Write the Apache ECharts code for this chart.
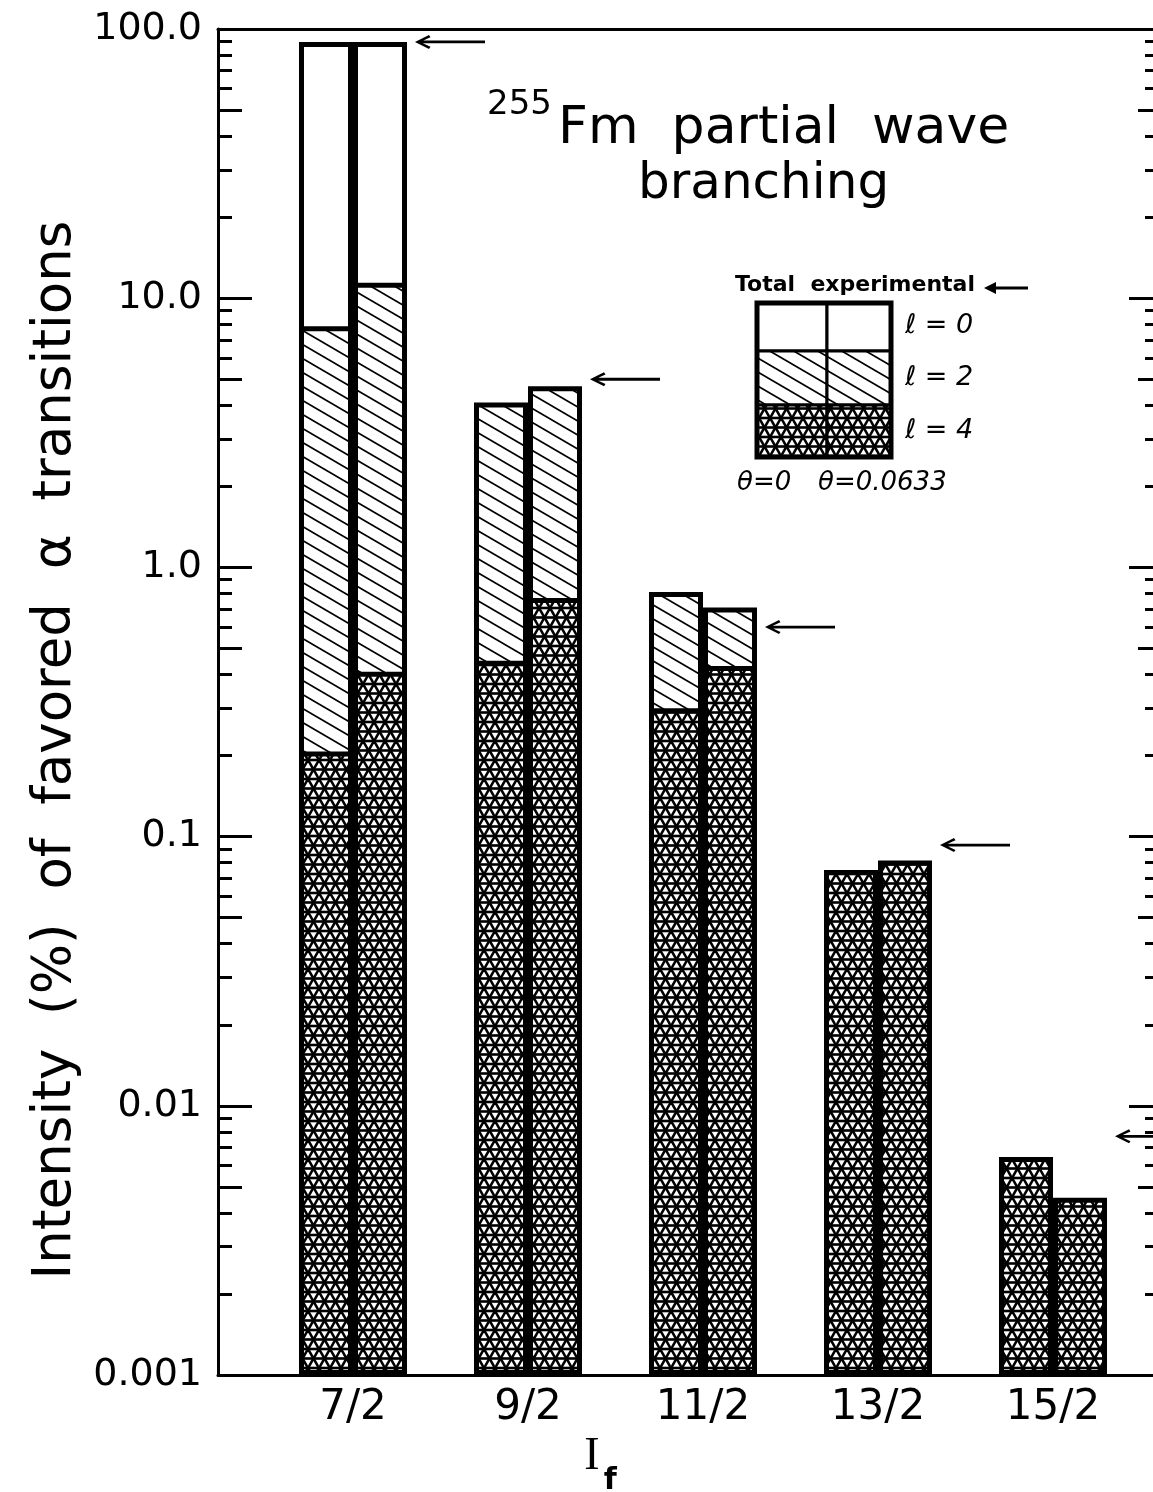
<!DOCTYPE html>
<html><head><meta charset="utf-8">
<script src="https://cdn.jsdelivr.net/npm/echarts@6/dist/echarts.min.js"></script>
<style>html,body{margin:0;padding:0;background:#fff}#c{width:1153px;height:1492px}</style>
</head><body><div id="c"></div>
<script>
// ---- data (intensity %) ----
const categories = ['7/2', '9/2', '11/2', '13/2', '15/2'];
// theta = 0 : contribution of each partial wave
const l4Theta0 = [0.207, 0.45, 0.30, 0.0752, 0.00645];
const l2Theta0 = [7.66, 3.65, 0.51, null, null];
const l0Theta0 = [81.6, null, null, null, null];
// theta = 0.0633
const l4Theta1 = [0.41, 0.77, 0.43, 0.0815, 0.00455];
const l2Theta1 = [11.0, 3.94, 0.28, null, null];
const l0Theta1 = [78.1, null, null, null, null];
// total experimental (arrows)
const totalExperimental = [89.5, 5.0, 0.60, 0.093, 0.0077];
// axis ticks
const majorTicks = [0.001, 0.01, 0.1, 1, 10, 100];
const majorTickLabels = ['0.001', '0.01', '0.1', '1.0', '10.0', '100.0'];
const halfDecadeTicks = [0.005, 0.05, 0.5, 5, 50];
const minorMantissas = [2, 3, 4, 6, 7, 8, 9];
const decades = [0.001, 0.01, 0.1, 1, 10];

const minorTicks = [];
decades.forEach(d => minorMantissas.forEach(m => minorTicks.push(+(d * m).toPrecision(3))));

const FONT = 'DejaVu Sans';

// cumulative tops of the stacked partial waves (l=4 at bottom, then l=2, then l=0)
function tops(l4, l2, l0) {
  const t4 = l4.slice();
  const t2 = l4.map((v, i) => l2[i] == null ? null : v + l2[i]);
  const t0 = l4.map((v, i) => l0[i] == null ? null : v + (l2[i] || 0) + l0[i]);
  return { t4, t2, t0 };
}
const topsTheta0 = tops(l4Theta0, l2Theta0, l0Theta0);
const topsTheta1 = tops(l4Theta1, l2Theta1, l0Theta1);

function hatchPattern() {
  const w = 24, h = 14;
  const c = document.createElement('canvas'); c.width = w; c.height = h;
  const ctx = c.getContext('2d');
  ctx.fillStyle = '#fff'; ctx.fillRect(0, 0, w, h);
  ctx.strokeStyle = '#000'; ctx.lineWidth = 1.7;
  for (let k = -1; k <= 1; k++) {
    ctx.beginPath(); ctx.moveTo(-w, -h + k * h); ctx.lineTo(2 * w, 2 * h + k * h); ctx.stroke();
  }
  return c;
}
function triPattern() {
  const w = 11, h = 9.5, H = 19;
  const c = document.createElement('canvas'); c.width = w; c.height = H;
  const ctx = c.getContext('2d');
  ctx.fillStyle = '#fff'; ctx.fillRect(0, 0, w, H);
  ctx.strokeStyle = '#000'; ctx.lineWidth = 2.6;
  [0, h, H].forEach(y => { ctx.beginPath(); ctx.moveTo(-2, y); ctx.lineTo(w + 2, y); ctx.stroke(); });
  [-w, 0, w].forEach(dx => {
    ctx.beginPath(); ctx.moveTo(dx - w, -H); ctx.lineTo(dx + 2 * w, 2 * H); ctx.stroke();
    ctx.beginPath(); ctx.moveTo(dx + 2 * w, -H); ctx.lineTo(dx - w, 2 * H); ctx.stroke();
  });
  return c;
}
const hatchFill = { image: hatchPattern(), repeat: 'repeat' };
const triFill = { image: triPattern(), repeat: 'repeat' };

const toPairs = arr => arr.map((v, i) => [i + 1, v == null ? '-' : v]);

// bars of one theta share a column (same "stack" key); drawn back to front
function seg(name, column, arr, fill) {
  return {
    type: 'bar', name, stack: column, barWidth: 54, barGap: '0%', xAxisIndex: 0, yAxisIndex: 0,
    data: toPairs(arr),
    itemStyle: { color: fill, borderColor: '#000', borderWidth: 5, opacity: 1 }
  };
}

const yBase = { type: 'log', logBase: 10, min: 0.001, max: 100, gridIndex: 0, splitLine: { show: false } };
function tickAxis(position, len, values) {
  return Object.assign({}, yBase, {
    position, axisLine: { show: false }, axisLabel: { show: false },
    axisTick: { show: true, inside: true, length: len, customValues: values, lineStyle: { color: '#000', width: 3 } }
  });
}

const arrowPath = 'path://M0,7 L14,0 L15.5,2.2 L5,7 L15.5,11.8 L14,14 Z M5,5.6 L70,5.6 L70,8.4 L5,8.4 Z';

const chart = echarts.init(document.getElementById('c'), null, { renderer: 'canvas' });
chart.setOption({
  animation: false,
  backgroundColor: '#fff',
  grid: { left: 218, right: 0, top: 29, bottom: 117, containLabel: false, outerBoundsMode: 'none' },
  xAxis: [
    {
      type: 'value', min: 0.2286, max: 5.5714, position: 'bottom', gridIndex: 0,
      splitLine: { show: false },
      axisLine: { show: true, lineStyle: { color: '#000', width: 3 } },
      axisTick: { show: false },
      axisLabel: {
        customValues: [1, 2, 3, 4, 5], formatter: v => categories[Math.round(v) - 1],
        color: '#000', fontSize: 42, fontFamily: FONT, margin: 12
      },
      name: '{i|I}{f|f}', nameLocation: 'middle', nameGap: 58,
      nameTextStyle: {
        padding: [0, 170, 0, 0],
        rich: {
          i: { fontFamily: 'Liberation Serif', fontSize: 46, color: '#000', verticalAlign: 'top', lineHeight: 62 },
          f: { fontFamily: FONT, fontSize: 30, fontWeight: 'bold', color: '#000', verticalAlign: 'bottom', lineHeight: 62, padding: [0, 0, 0, 4] }
        }
      }
    },
    {
      type: 'value', min: 0.2286, max: 5.5714, position: 'top', gridIndex: 0,
      splitLine: { show: false }, axisTick: { show: false }, axisLabel: { show: false },
      axisLine: { show: true, lineStyle: { color: '#000', width: 3 } }
    }
  ],
  yAxis: [
    Object.assign({}, yBase, {
      position: 'left', startValue: 0.001,
      axisLine: { show: true, lineStyle: { color: '#000', width: 3 } },
      axisTick: { show: true, inside: true, length: 34, customValues: majorTicks, lineStyle: { color: '#000', width: 3 } },
      axisLabel: {
        customValues: majorTicks,
        formatter: v => majorTickLabels[Math.round(Math.log10(v)) + 3],
        color: '#000', fontSize: 38, fontFamily: FONT, margin: 16
      },
      name: 'Intensity  (%)  of  favored  α  transitions',
      nameLocation: 'middle', nameGap: 135, nameRotate: 90,
      nameTextStyle: { fontSize: 53, fontFamily: FONT, color: '#000', padding: [0, 96, 0, 0] }
    }),
    tickAxis('left', 24, halfDecadeTicks),
    tickAxis('left', 14, minorTicks),
    tickAxis('right', 24, majorTicks),
    tickAxis('right', 15, halfDecadeTicks),
    tickAxis('right', 8, minorTicks)
  ],
  series: [
    seg('ℓ=0, θ=0', 'theta0', topsTheta0.t0, '#fff'),
    seg('ℓ=2, θ=0', 'theta0', topsTheta0.t2, hatchFill),
    seg('ℓ=4, θ=0', 'theta0', topsTheta0.t4, triFill),
    seg('ℓ=0, θ=0.0633', 'theta1', topsTheta1.t0, '#fff'),
    seg('ℓ=2, θ=0.0633', 'theta1', topsTheta1.t2, hatchFill),
    seg('ℓ=4, θ=0.0633', 'theta1', topsTheta1.t4, triFill),
    {
      name: 'Total experimental', type: 'scatter', xAxisIndex: 0, yAxisIndex: 0, clip: false, z: 5,
      data: totalExperimental.map((v, i) => [i + 1, v]),
      symbol: arrowPath, symbolSize: [70, 14], symbolOffset: [97, 0], symbolKeepAspect: false,
      itemStyle: { color: '#000', opacity: 1 }
    }
  ],
  graphic: [
    // title
    { type: 'text', left: 487, top: 88, style: { text: '255', font: '34px "DejaVu Sans"', fill: '#000' } },
    { type: 'text', left: 558, top: 103, style: { text: 'Fm  partial  wave', font: '52px "DejaVu Sans"', fill: '#000' } },
    { type: 'text', left: 638, top: 160, style: { text: 'branching', font: '50px "DejaVu Sans"', fill: '#000' } },
    // legend
    { type: 'text', left: 735, top: 274, style: { text: 'Total  experimental', font: 'bold 22px "DejaVu Sans"', fill: '#000' } },
    { type: 'polyline', shape: { points: [[988, 288], [1028, 288]] }, style: { stroke: '#000', lineWidth: 3 } },
    { type: 'polygon', shape: { points: [[984, 288], [996, 282], [996, 294]] }, style: { fill: '#000' } },
    { type: 'rect', shape: { x: 757, y: 303, width: 70, height: 48 }, style: { fill: '#fff', stroke: '#000', lineWidth: 3 } },
    { type: 'rect', shape: { x: 827, y: 303, width: 64, height: 48 }, style: { fill: '#fff', stroke: '#000', lineWidth: 3 } },
    { type: 'rect', shape: { x: 757, y: 351, width: 70, height: 54 }, style: { fill: hatchFill, stroke: '#000', lineWidth: 3 } },
    { type: 'rect', shape: { x: 827, y: 351, width: 64, height: 54 }, style: { fill: hatchFill, stroke: '#000', lineWidth: 3 } },
    { type: 'rect', shape: { x: 757, y: 405, width: 70, height: 52 }, style: { fill: triFill, stroke: '#000', lineWidth: 3 } },
    { type: 'rect', shape: { x: 827, y: 405, width: 64, height: 52 }, style: { fill: triFill, stroke: '#000', lineWidth: 3 } },
    { type: 'rect', shape: { x: 757, y: 303, width: 134, height: 154 }, style: { fill: 'none', stroke: '#000', lineWidth: 5 } },
    { type: 'text', left: 905, top: 312, style: { text: 'ℓ = 0', font: 'italic 27px "DejaVu Sans"', fill: '#000' } },
    { type: 'text', left: 905, top: 364, style: { text: 'ℓ = 2', font: 'italic 27px "DejaVu Sans"', fill: '#000' } },
    { type: 'text', left: 905, top: 417, style: { text: 'ℓ = 4', font: 'italic 27px "DejaVu Sans"', fill: '#000' } },
    { type: 'text', left: 737, top: 470, style: { text: 'θ=0', font: 'italic 26px "DejaVu Sans"', fill: '#000' } },
    { type: 'text', left: 818, top: 470, style: { text: 'θ=0.0633', font: 'italic 26px "DejaVu Sans"', fill: '#000' } }
  ]
});
</script>
</body></html>
